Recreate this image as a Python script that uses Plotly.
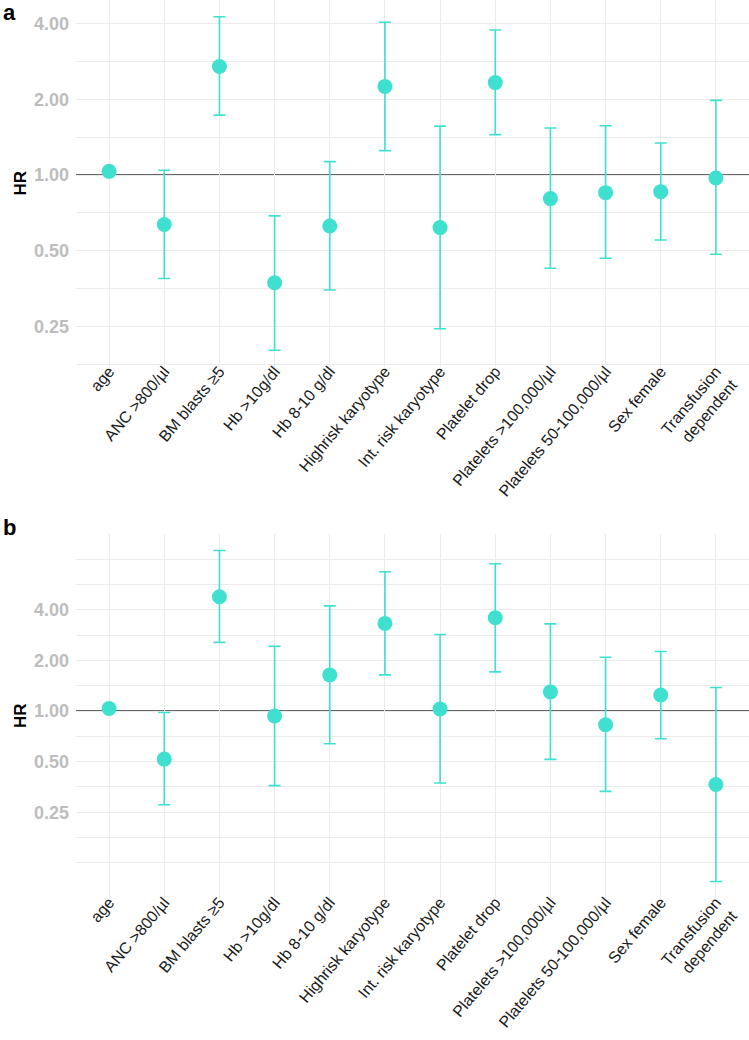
import numpy as np
import plotly.graph_objects as go

categories = ["age", "ANC >800/µl", "BM blasts ≥5", "Hb >10g/dl", "Hb 8-10 g/dl",
              "Highrisk karyotype", "Int. risk karyotype", "Platelet drop",
              "Platelets >100,000/µl", "Platelets 50-100,000/µl", "Sex female",
              "Transfusion<br>dependent"]

# Panel a
hr_a = [1.034, 0.636, 2.70, 0.373, 0.627, 2.25, 0.618, 2.33, 0.806, 0.851, 0.859, 0.973]
lo_a = [1.02, 0.388, 1.73, 0.201, 0.349, 1.25, 0.245, 1.447, 0.426, 0.467, 0.552, 0.484]
hi_a = [1.05, 1.044, 4.26, 0.688, 1.13, 4.05, 1.565, 3.77, 1.537, 1.57, 1.34, 1.98]

# Panel b
hr_b = [1.036, 0.518, 4.78, 0.934, 1.64, 3.32, 1.03, 3.59, 1.30, 0.829, 1.245, 0.366]
lo_b = [1.02, 0.277, 2.56, 0.36, 0.639, 1.64, 0.373, 1.71, 0.516, 0.333, 0.684, 0.097]
hi_b = [1.05, 0.981, 9.0, 2.43, 4.22, 6.73, 2.85, 7.51, 3.30, 2.09, 2.26, 1.38]

major_a = [0.25, 0.5, 1, 2, 4]
label_a = ["0.25", "0.50", "1.00", "2.00", "4.00"]
major_b = [0.125, 0.25, 0.5, 1, 2, 4, 8]
label_b = ["", "0.25", "0.50", "1.00", "2.00", "4.00", ""]
minor_vals = [0.125 * np.sqrt(2) * 2 ** k for k in range(6)]

W, H = 749, 1040
TURQ = "#40E0D0"
GRID = "#EBEBEB"

fig = go.Figure()

def add_panel(hr, lo, hi, xa, ya):
    hr = np.array(hr); lo = np.array(lo); hi = np.array(hi)
    fig.add_trace(go.Scatter(
        x=categories, y=hr, mode="markers", xaxis=xa, yaxis=ya,
        marker=dict(size=15, color=TURQ),
        error_y=dict(type="data", symmetric=False, array=hi - hr, arrayminus=hr - lo,
                     color=TURQ, thickness=1.6, width=6),
        showlegend=False))

add_panel(hr_a, lo_a, hi_a, "x", "y")
add_panel(hr_b, lo_b, hi_b, "x2", "y2")

def yrange(lo, hi):
    a, b = np.log10(min(lo)), np.log10(max(hi))
    e = 0.05 * (b - a)
    return [a - e, b + e]

xdom = [76 / W, 1.0]
dom_a = [1 - 367 / H, 1.0]
dom_b = [1 - 898 / H, 1 - 534 / H]

xcommon = dict(type="category", range=[-0.6, len(categories) - 0.4], domain=xdom,
               showgrid=True, gridcolor=GRID, gridwidth=1.2, zeroline=False,
               showline=False, ticks="", tickangle=-50, automargin=False,
               ticklabelstandoff=-9,
               tickfont=dict(family="Liberation Sans", size=16, color="#1a1a1a"))
ycommon = dict(type="log", showgrid=True, gridcolor=GRID, gridwidth=1.2, zeroline=False,
               showline=False, ticks="", automargin=False, ticklabelstandoff=6,
               tickfont=dict(family="Liberation Sans", size=18, color="#BDBDBD", weight="bold"),
               minor=dict(tickvals=minor_vals, showgrid=True, gridcolor=GRID, gridwidth=0.8, ticks=""))

fig.update_layout(
    width=W, height=H, margin=dict(l=0, r=0, t=0, b=0),
    plot_bgcolor="white", paper_bgcolor="white",
    xaxis=dict(**xcommon, anchor="y"),
    xaxis2=dict(**xcommon, anchor="y2"),
    yaxis=dict(**ycommon, domain=dom_a, anchor="x", range=yrange(lo_a, hi_a),
               tickvals=major_a, ticktext=label_a),
    yaxis2=dict(**ycommon, domain=dom_b, anchor="x2", range=yrange(lo_b, hi_b),
                tickvals=major_b, ticktext=label_b),
)

for xr, yr in [("x domain", "y"), ("x2 domain", "y2")]:
    fig.add_shape(type="line", xref=xr, x0=0, x1=1,
                  yref=yr, y0=1, y1=1, line=dict(color="#333333", width=1.6), layer="below")

ann_font = dict(family="Liberation Sans", color="black")
fig.add_annotation(text="<b>a</b>", xref="paper", yref="paper", x=0.001, y=1 - 13 / H,
                   xanchor="left", yanchor="middle", showarrow=False, font=dict(size=22, **ann_font))
fig.add_annotation(text="<b>b</b>", xref="paper", yref="paper", x=0.001, y=1 - 527 / H,
                   xanchor="left", yanchor="middle", showarrow=False, font=dict(size=22, **ann_font))
for dom in (dom_a, dom_b):
    fig.add_annotation(text="<b>HR</b>", xref="paper", yref="paper", x=20 / W,
                       y=(dom[0] + dom[1]) / 2, xanchor="center", yanchor="middle",
                       textangle=-90, showarrow=False, font=dict(size=17, **ann_font))

fig.write_html("out.html", config={"displayModeBar": False},
               post_script="document.body.style.margin='0';document.body.style.padding='0';")
